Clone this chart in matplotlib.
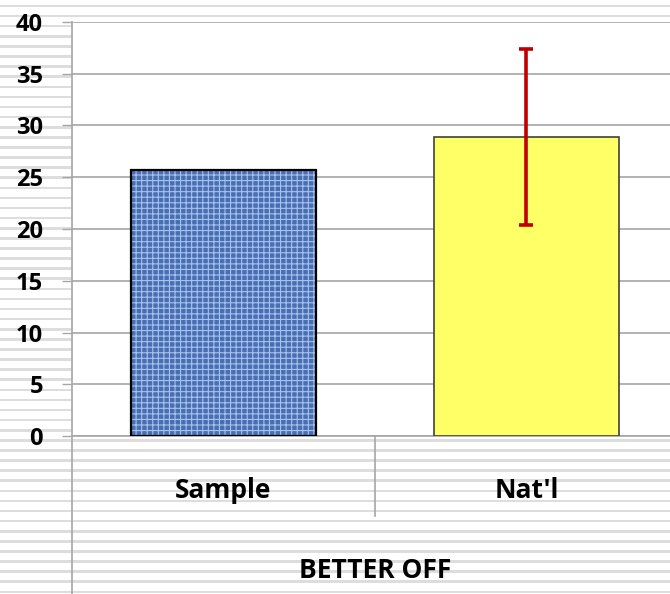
import numpy as np
import matplotlib.pyplot as plt
import matplotlib.transforms as mtransforms
from matplotlib.lines import Line2D
from matplotlib.patches import Rectangle

categories = ["Sample", "Nat'l"]
values = [25.7, 28.9]
errors = [None, 8.5]
group_label = "BETTER OFF"
yticks = [0, 5, 10, 15, 20, 25, 30, 35, 40]

plt.rcParams['font.family'] = ['Open Sans', 'DejaVu Sans']
plt.rcParams['hatch.linewidth'] = 0.8

W, H = 670, 594
fig = plt.figure(figsize=(W / 100, H / 100), dpi=100)
fig.patch.set_facecolor("white")

# striped background over whole figure
bg = fig.add_axes([0, 0, 1, 1], zorder=-5)
bg.set_xlim(0, W)
bg.set_ylim(H, 0)
bg.axis("off")
for y in np.arange(6, H, 10.1):
    bg.add_patch(Rectangle((0, y - 1.3), W, 2.6, color="#dddddd", lw=0))

# plot area
x0, x1 = 72, 670
ytop, ybot = 22, 436
ax = fig.add_axes([x0 / W, 1 - ybot / H, (x1 - x0) / W, (ybot - ytop) / H])
ax.set_facecolor("white")
ax.set_xlim(-0.5, 1.474)
ax.set_ylim(0, 40)

bw = 0.61
ax.bar(0, values[0], width=bw, color="#4a6eb2", edgecolor="#a6c2ee",
       hatch="+++", linewidth=0, zorder=3)
ax.bar(0, values[0], width=bw, fill=False, edgecolor="black", linewidth=1.6, zorder=4)
ax.bar(1, values[1], width=bw, color="#ffff66", edgecolor="#404040",
       linewidth=1.2, zorder=3)
ax.errorbar(1, values[1], yerr=errors[1], fmt="none", ecolor="#c00000",
            elinewidth=2.6, capsize=4.8, capthick=2.6, zorder=5)

ax.set_yticks(yticks)
ax.set_yticklabels([str(t) for t in yticks], fontsize=17, fontweight="bold")
ax.yaxis.grid(True, color="#a6a6a6", linewidth=1.2)
ax.set_axisbelow(True)
ax.tick_params(axis="y", length=7, width=1, color="#a6a6a6", pad=14)
ax.set_xticks([])
for s in ["top", "right", "left"]:
    ax.spines[s].set_visible(False)
ax.spines["bottom"].set_color("#a6a6a6")
ax.spines["bottom"].set_linewidth(1.2)

# category axis lines drawn in figure pixels
fig.add_artist(Line2D([x0 / W, x0 / W], [0, 1 - ytop / H], color="#a6a6a6",
                      lw=1.2, transform=fig.transFigure))
fig.add_artist(Line2D([375 / W, 375 / W], [1 - ybot / H, 1 - 516 / H],
                      color="#a6a6a6", lw=1.2, transform=fig.transFigure))

trans = mtransforms.blended_transform_factory(ax.transData, fig.transFigure)
for i, c in enumerate(categories):
    ax.text(i, 1 - 490 / H, c, ha="center", va="center",
            fontsize=19, fontweight="bold", transform=trans, clip_on=False)
fig.text(375 / W, 1 - 571 / H, group_label, ha="center", va="center",
         fontsize=19, fontweight="bold")

fig.savefig("out.png", dpi=100)
